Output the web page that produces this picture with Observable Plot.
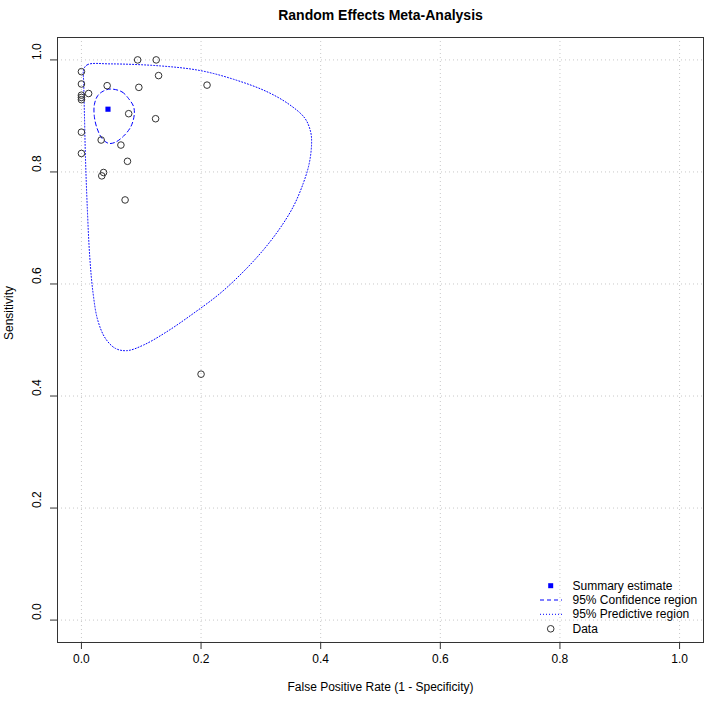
<!DOCTYPE html>
<html>
<head>
<meta charset="utf-8">
<script src="https://cdn.jsdelivr.net/npm/d3@7"></script>
<script src="https://cdn.jsdelivr.net/npm/@observablehq/plot@0.6"></script>
<style>
  html, body { margin: 0; padding: 0; background: #fff; }
  #wrap { position: relative; width: 709px; height: 702px; font-family: "Liberation Sans", Arial, sans-serif; }
  #legend { position: absolute; left: 0; top: 0; pointer-events: none; }
</style>
</head>
<body>
<div id="wrap"></div>
<script>
// ---- Data ----
const titleText = "Random Effects Meta-Analysis";
const xLabel = "False Positive Rate (1 - Specificity)";
const yLabel = "Sensitivity";
const xTicks = [0, 0.2, 0.4, 0.6, 0.8, 1.0];
const yTicks = [0, 0.2, 0.4, 0.6, 0.8, 1.0];

// individual studies (FPR, sensitivity)
const studyFPR  = [0.094, 0.125, 0.000, 0.129, 0.000, 0.043, 0.096, 0.210, 0.012, 0.000, 0.000, 0.000,
                   0.079, 0.124, 0.000, 0.033, 0.066, 0.000, 0.077, 0.037, 0.034, 0.073, 0.200];
const studySens = [1.000, 1.000, 0.979, 0.972, 0.957, 0.954, 0.951, 0.955, 0.940, 0.937, 0.933, 0.929,
                   0.904, 0.895, 0.871, 0.857, 0.848, 0.833, 0.819, 0.799, 0.793, 0.750, 0.439];

// summary estimate
const summaryFPR = [0.0444];
const summarySens = [0.912];

// 95% confidence region
const crFPR  = [0.0483, 0.0677, 0.0788, 0.0871, 0.0883, 0.0827, 0.0705, 0.0566, 0.0455, 0.0344, 0.0261, 0.0216, 0.0216, 0.0272, 0.0361];
const crSens = [0.948, 0.943, 0.931, 0.917, 0.902, 0.881, 0.864, 0.853, 0.851, 0.860, 0.878, 0.899, 0.920, 0.936, 0.944];

// 95% predictive region
const prFPR  = [0.0039, 0.0106, 0.0484, 0.1318, 0.1985, 0.2541, 0.3097, 0.3486, 0.3736, 0.3831, 0.3848, 0.3809,
                0.3709, 0.3542, 0.3319, 0.3041, 0.2708, 0.2319, 0.1874, 0.1429, 0.1040, 0.0762, 0.0567, 0.0400,
                0.0272, 0.0195, 0.0139, 0.0095, 0.0067, 0.0050, 0.0039];
const prSens = [0.9833, 0.9917, 0.9929, 0.9893, 0.9810, 0.9655, 0.9435, 0.9196, 0.8958, 0.8720, 0.8512, 0.8155,
                0.7798, 0.7381, 0.6994, 0.6607, 0.6220, 0.5833, 0.5476, 0.5149, 0.4911, 0.4810, 0.4851, 0.5030,
                0.5357, 0.5833, 0.6488, 0.7440, 0.8274, 0.9048, 0.9583];

const legendLabels = ["Summary estimate", "95% Confidence region", "95% Predictive region", "Data"];

// ---- Build tables ----
const studies = studyFPR.map((x, i) => ({x, y: studySens[i]}));
const summary = summaryFPR.map((x, i) => ({x, y: summarySens[i]}));
const cr = crFPR.map((x, i) => ({x, y: crSens[i]}));
const pr = prFPR.map((x, i) => ({x, y: prSens[i]}));
const fmt = d3.format(".1f");

const chart = Plot.plot({
  width: 709,
  height: 702,
  marginLeft: 57,
  marginRight: 6,
  marginTop: 37,
  marginBottom: 60,
  style: {fontFamily: '"Liberation Sans", Arial, sans-serif', background: "#fff", color: "#000"},
  x: {domain: [-0.04, 1.04], axis: null},
  y: {domain: [-0.04, 1.04], axis: null},
  marks: [
    Plot.gridX(xTicks, {stroke: "#c8c8c8", strokeOpacity: 1, strokeDasharray: "1,3"}),
    Plot.gridY(yTicks, {stroke: "#c8c8c8", strokeOpacity: 1, strokeDasharray: "1,3"}),
    Plot.line(pr, {x: "x", y: "y", curve: "catmull-rom-closed", stroke: "blue", strokeWidth: 1, strokeDasharray: "1,2"}),
    Plot.line(cr, {x: "x", y: "y", curve: "catmull-rom-closed", stroke: "blue", strokeWidth: 1, strokeDasharray: "4,3"}),
    Plot.dot(studies, {x: "x", y: "y", r: 3.3, stroke: "#333", strokeWidth: 1, fill: "none"}),
    Plot.dot(summary, {x: "x", y: "y", symbol: "square", r: 2.9, fill: "blue", stroke: "none"}),
    Plot.frame({stroke: "#333", strokeWidth: 1}),
    Plot.axisX(xTicks, {tickSize: 7, stroke: "#333", tickFormat: () => "", label: null}),
    Plot.axisY(yTicks, {tickSize: 7, stroke: "#333", tickFormat: () => "", label: null}),
    Plot.text(xTicks, {x: d => d, frameAnchor: "bottom", dy: 20.5, text: d => fmt(d), fontSize: 12, fill: "#000"}),
    Plot.text(yTicks, {y: d => d, frameAnchor: "left", dx: -20.5, rotate: -90, text: d => fmt(d), fontSize: 12, fill: "#000"}),
    Plot.text([xLabel], {frameAnchor: "bottom", dy: 48, text: d => d, fontSize: 12, fill: "#000"}),
    Plot.text([yLabel], {frameAnchor: "left", dx: -48, rotate: -90, text: d => d, fontSize: 12, fill: "#000"}),
    Plot.text([titleText], {frameAnchor: "top", dy: -27.5, text: d => d, fontSize: 14, fontWeight: "bold", fill: "#000"})
  ]
});

const wrap = document.getElementById("wrap");
wrap.appendChild(chart);

// ---- Legend overlay (bottom-right, no box) ----
const ns = "http://www.w3.org/2000/svg";
const lg = document.createElementNS(ns, "svg");
lg.setAttribute("id", "legend");
lg.setAttribute("width", 709);
lg.setAttribute("height", 702);
const rowY = [585.7, 600, 614.3, 628.8];
const symX = 550.7, textX = 572.5;
function el(tag, attrs) { const e = document.createElementNS(ns, tag); for (const k in attrs) e.setAttribute(k, attrs[k]); lg.appendChild(e); return e; }
el("rect", {x: symX - 2.5, y: rowY[0] - 2.5, width: 5, height: 5, fill: "blue"});
el("line", {x1: 540, x2: 562, y1: rowY[1], y2: rowY[1], stroke: "blue", "stroke-dasharray": "4,3"});
el("line", {x1: 540, x2: 562, y1: rowY[2], y2: rowY[2], stroke: "blue", "stroke-dasharray": "1,2"});
el("circle", {cx: symX, cy: rowY[3], r: 3.3, fill: "none", stroke: "#333"});
legendLabels.forEach((t, i) => {
  const tx = el("text", {x: textX, y: rowY[i], "dominant-baseline": "central", "font-size": 12, "font-family": '"Liberation Sans", Arial, sans-serif', fill: "#000"});
  tx.textContent = t;
});
wrap.appendChild(lg);
</script>
</body>
</html>
